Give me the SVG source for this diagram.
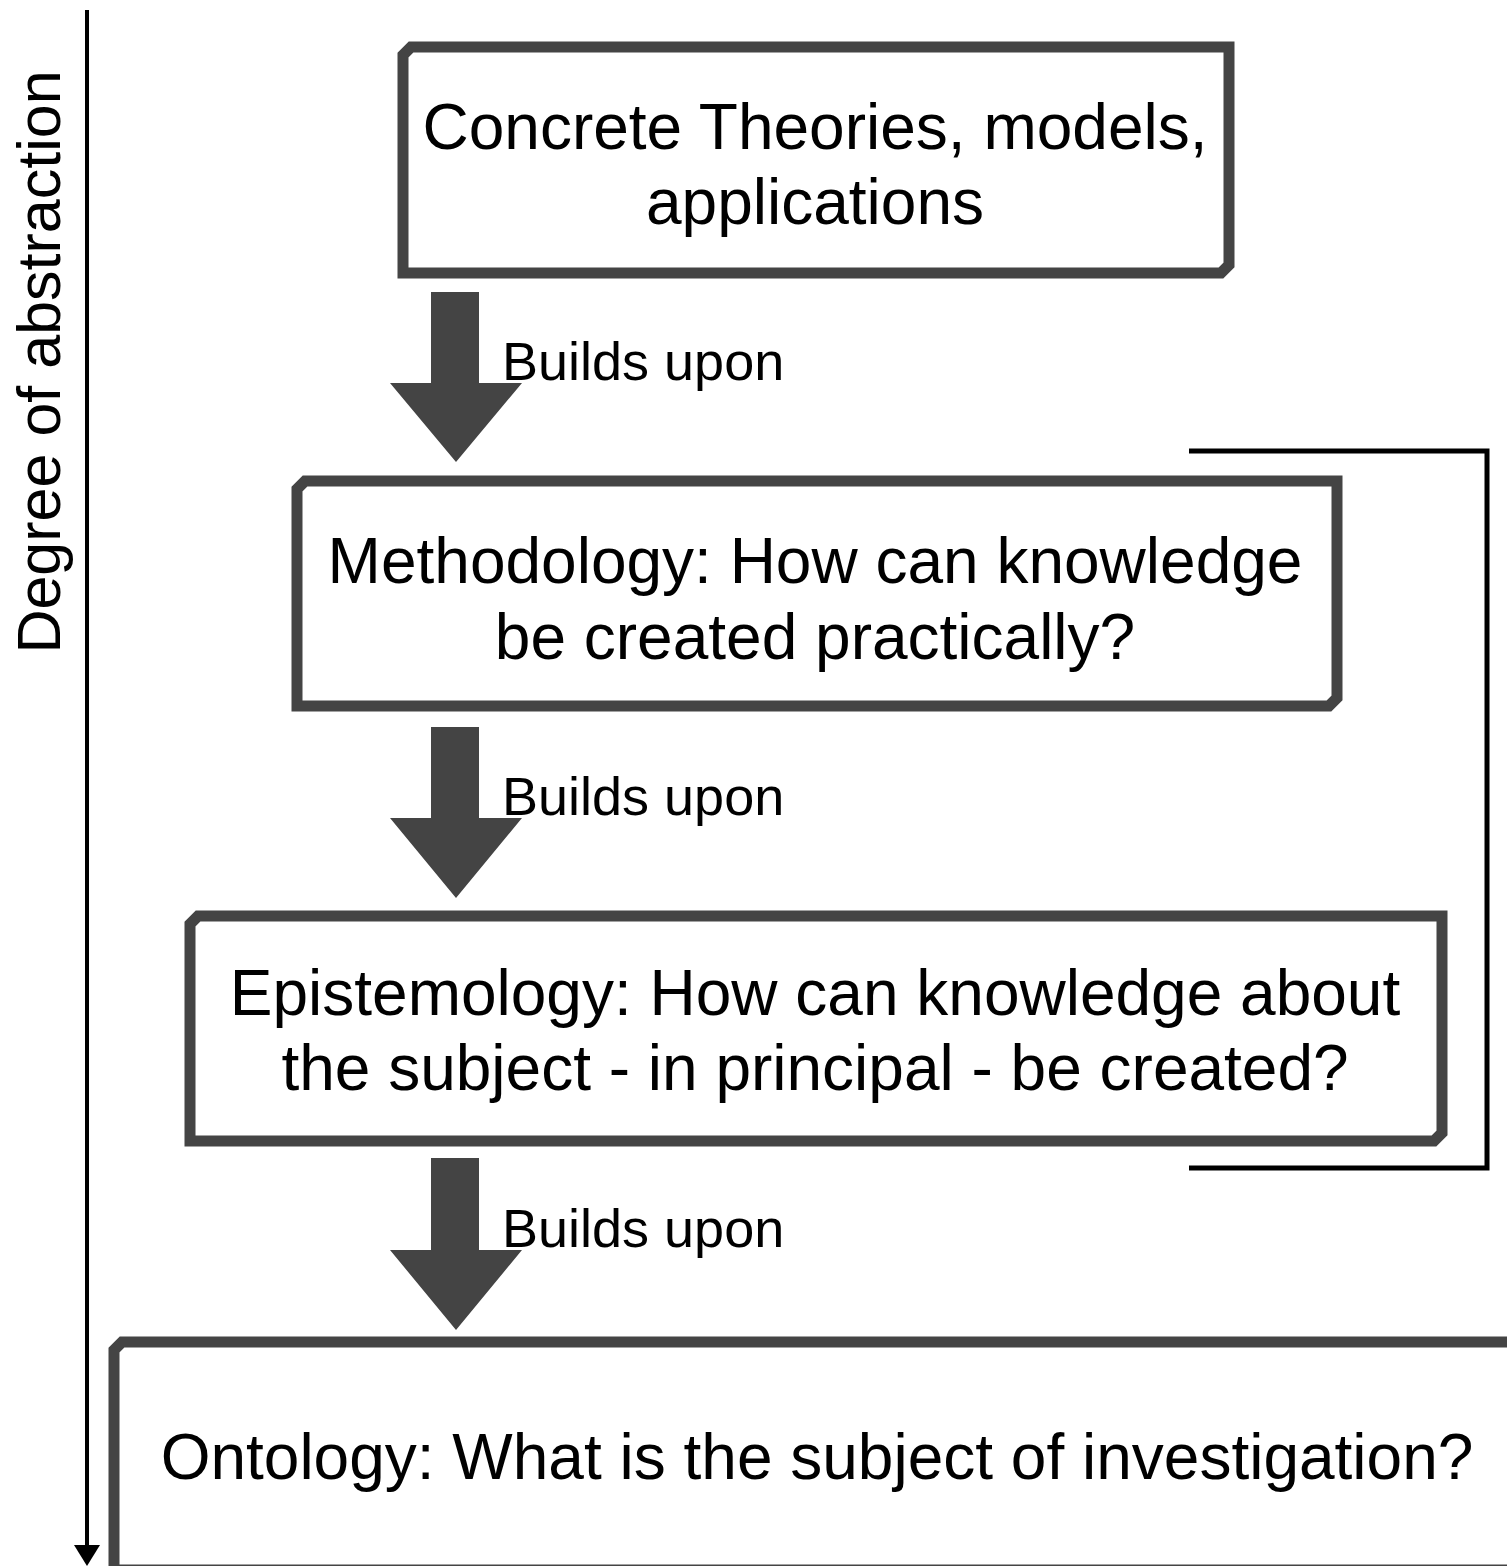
<svg xmlns="http://www.w3.org/2000/svg" width="1507" height="1566" viewBox="0 0 1507 1566">
<style>
.box{fill:#fff;stroke:#444;stroke-width:11;stroke-linejoin:miter}
.t{font-family:"Liberation Sans",Arial,sans-serif;font-size:64px;fill:#000;text-anchor:middle}
.lbl{font-family:"Liberation Sans",Arial,sans-serif;font-size:54px;fill:#000}
.arr{fill:#444}
</style>
<rect width="1507" height="1566" fill="#fff"/>
<g id="axis">
<line x1="87" y1="10" x2="87" y2="1548" stroke="#000" stroke-width="4"/>
<polygon points="74,1545 100,1545 87,1566" fill="#000"/>
<text class="lbl" style="font-size:61px" transform="translate(60,362) rotate(-90)" text-anchor="middle">Degree of abstraction</text>
</g>
<g id="bracket">
<polyline points="1189,451 1487,451 1487,1168 1189,1168" fill="none" stroke="#000" stroke-width="5"/>
</g>
<g id="node-concrete">
<path class="box" d="M411,47 L1229,47 L1229,265 L1221,273 L403,273 L403,55 Z"/>
<text class="t" x="815" y="149">Concrete Theories, models,</text>
<text class="t" x="815" y="224">applications</text>
</g>
<g id="node-methodology">
<path class="box" d="M305,481 L1337,481 L1337,698 L1329,706 L297,706 L297,489 Z"/>
<text class="t" x="815" y="583">Methodology: How can knowledge</text>
<text class="t" x="815" y="659">be created practically?</text>
</g>
<g id="node-epistemology">
<path class="box" d="M198,916 L1442,916 L1442,1133 L1434,1141 L190,1141 L190,924 Z"/>
<text class="t" x="815" y="1015">Epistemology: How can knowledge about</text>
<text class="t" x="815" y="1090">the subject - in principal - be created?</text>
</g>
<g id="node-ontology">
<path class="box" d="M122,1342 L1530,1342 L1530,1570 L114,1570 L114,1350 Z"/>
<text class="t" x="817" y="1479">Ontology: What is the subject of investigation?</text>
</g>
<g id="connectors">
<polygon class="arr" points="431,292 479,292 479,383 522,383 456,462 390,383 431,383"/>
<polygon class="arr" points="431,727 479,727 479,818 522,818 456,898 390,818 431,818"/>
<polygon class="arr" points="431,1158 479,1158 479,1250 522,1250 456,1330 390,1250 431,1250"/>
<text class="lbl" x="502" y="380">Builds upon</text>
<text class="lbl" x="502" y="815">Builds upon</text>
<text class="lbl" x="502" y="1247">Builds upon</text>
</g>
</svg>
